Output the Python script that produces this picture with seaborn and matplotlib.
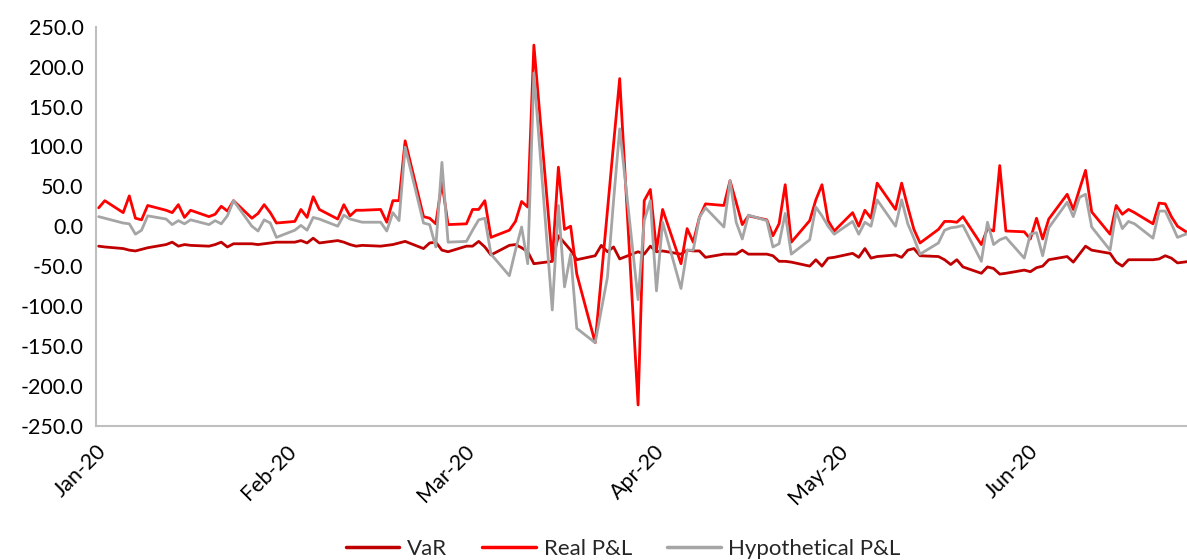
import numpy as np
import pandas as pd
import matplotlib
matplotlib.use("Agg")
import matplotlib.pyplot as plt
import matplotlib.dates as mdates
from matplotlib.lines import Line2D
import seaborn as sns

# ---- data -------------------------------------------------------------
dates = pd.bdate_range("2020-01-02", "2020-06-29")

var = [-25, -26,
       -28, -30, -31, -29, -27,
       -23, -20, -25, -23, -24,
       -25, -23, -20, -26, -22,
       -22, -23, -22, -21, -20,
       -20, -18, -21, -15, -21,
       -18, -20, -23, -25, -24,
       -25, -24, -23, -21, -19,
       -28, -21, -20, -30, -32,
       -25, -25, -19, -26, -36,
       -24, -23, -27, -32, -47,
       -44, -12, -21, -30, -42,
       -37, -24, -32, -26, -41,
       -32, -35, -25, -32, -31,
       -35, -30, -31, -31, -39,
       -35, -35, -35, -30, -35,
       -35, -37, -44, -44, -45,
       -50, -42, -50, -40, -39,
       -34, -39, -28, -40, -38,
       -36, -39, -30, -28, -37,
       -38, -42, -48, -42, -51,
       -59, -51, -53, -60, -59,
       -55, -57, -52, -50, -42,
       -38, -45, -35, -25, -30,
       -34, -45, -50, -42, -42,
       -42, -41, -37, -40, -46,
       -43]

real_pl = [23, 32,
           17, 38, 10, 8, 26,
           20, 17, 27, 11, 20,
           12, 15, 25, 19, 32,
           10, 16, 27, 17, 4,
           6, 21, 11, 37, 21,
           9, 27, 13, 20, 20,
           21, 5, 32, 32, 107,
           12, 10, 3, 55, 2,
           3, 21, 21, 32, -14,
           -5, 6, 31, 24, 227,
           -43, 74, -4, 0, -60,
           -146, -64, 20, 103, 185,
           -224, 32, 46, -30, 21,
           -47, -3, -20, 11, 28,
           26, 57, 30, 2, 13,
           8, -12, 3, 52, -20,
           7, 33, 52, 7, -6,
           17, 0, 20, 10, 54,
           21, 54, 24, -4, -21,
           -4, 6, 6, 5, 12,
           -23, -3, -6, 76, -6,
           -7, -16, 10, -16, 9,
           40, 21, 46, 70, 18,
           -10, 26, 15, 21, 17,
           3, 29, 28, 12, 0,
           -15]

hyp_pl = [12, 10,
          4, 3, -10, -5, 13,
          9, 2, 7, 3, 8,
          2, 7, 3, 13, 32,
          0, -6, 8, 4, -14,
          -5, 1, -5, 11, 9,
          0, 14, 9, 7, 5,
          5, -6, 17, 7, 99,
          4, 2, -26, 80, -20,
          -19, -5, 8, 10, -35,
          -62, -30, -1, -47, 192,
          -105, 26, -76, -35, -128,
          -146, -105, -64, 32, 122,
          -92, 7, 32, -81, 5,
          -78, -30, -30, 11, 23,
          -1, 57, 5, -16, 14,
          7, -26, -22, 16, -35,
          -17, 24, 13, 0, -10,
          6, -10, 5, 0, 33,
          0, 33, 3, -15, -35,
          -21, -5, -2, -1, 1,
          -44, 5, -23, -17, -14,
          -40, -10, -8, -37, -2,
          30, 12, 36, 40, -1,
          -30, 19, -3, 6, 3,
          -15, 19, 19, 3, -14,
          -5]

series_names = ["VaR", "Real P&L", "Hypothetical P&L"]
series_colors = ["#C00000", "#FF0000", "#A5A5A5"]
month_labels = ["Jan-20", "Feb-20", "Mar-20", "Apr-20", "May-20", "Jun-20"]

df = pd.concat([
    pd.DataFrame({"date": dates, "value": v, "series": n})
    for n, v in zip(series_names, [var, real_pl, hyp_pl])
], ignore_index=True)

# ---- style -------------------------------------------------------------
sns.set_style("white")
plt.rcParams["font.family"] = ["Lato", "DejaVu Sans"]

fig = plt.figure(figsize=(11.87, 5.60), dpi=100)
ax = fig.add_axes([0.0809, 0.2398, 0.9191, 0.7125])

sns.lineplot(data=df, x="date", y="value", hue="series",
             hue_order=series_names, palette=series_colors,
             linewidth=2.0, ax=ax, legend=False, sort=False)

# axes ranges
off = pd.Timedelta(hours=13.7)
x0 = pd.Timestamp("2020-01-01") + off
x1 = pd.Timestamp("2020-01-01") + pd.Timedelta(days=178.55)
ax.set_xlim(x0, x1)
ax.set_ylim(-250, 250)

ax.set_yticks(np.arange(-250, 251, 50))
ax.set_yticklabels([f"{v:.1f}" for v in np.arange(-250, 251, 50)])

month_ticks = [pd.Timestamp(f"2020-{m:02d}-01") + off for m in range(1, 7)]
ax.set_xticks(month_ticks)
ax.set_xticklabels(month_labels, rotation=45, ha="right",
                   rotation_mode="anchor")

ax.set_xlabel("")
ax.set_ylabel("")

for s in ["top", "right"]:
    ax.spines[s].set_visible(False)
for s in ["left", "bottom"]:
    ax.spines[s].set_color("#BFBFBF")
    ax.spines[s].set_linewidth(1.5)

ax.tick_params(axis="both", which="both", direction="out", length=5,
               width=1.2, color="#BFBFBF", labelsize=15.5, labelcolor="black")
ax.tick_params(axis="y", pad=4)
ax.tick_params(axis="x", pad=6)

handles = [Line2D([0], [0], color=c, lw=2.5) for c in series_colors]
fig.legend(handles, series_names, loc="center", ncol=3,
           bbox_to_anchor=(0.525, 0.02), frameon=False, fontsize=16,
           handlelength=2.4, columnspacing=1.6, handletextpad=0.35)

fig.savefig("out.png", dpi=100)
